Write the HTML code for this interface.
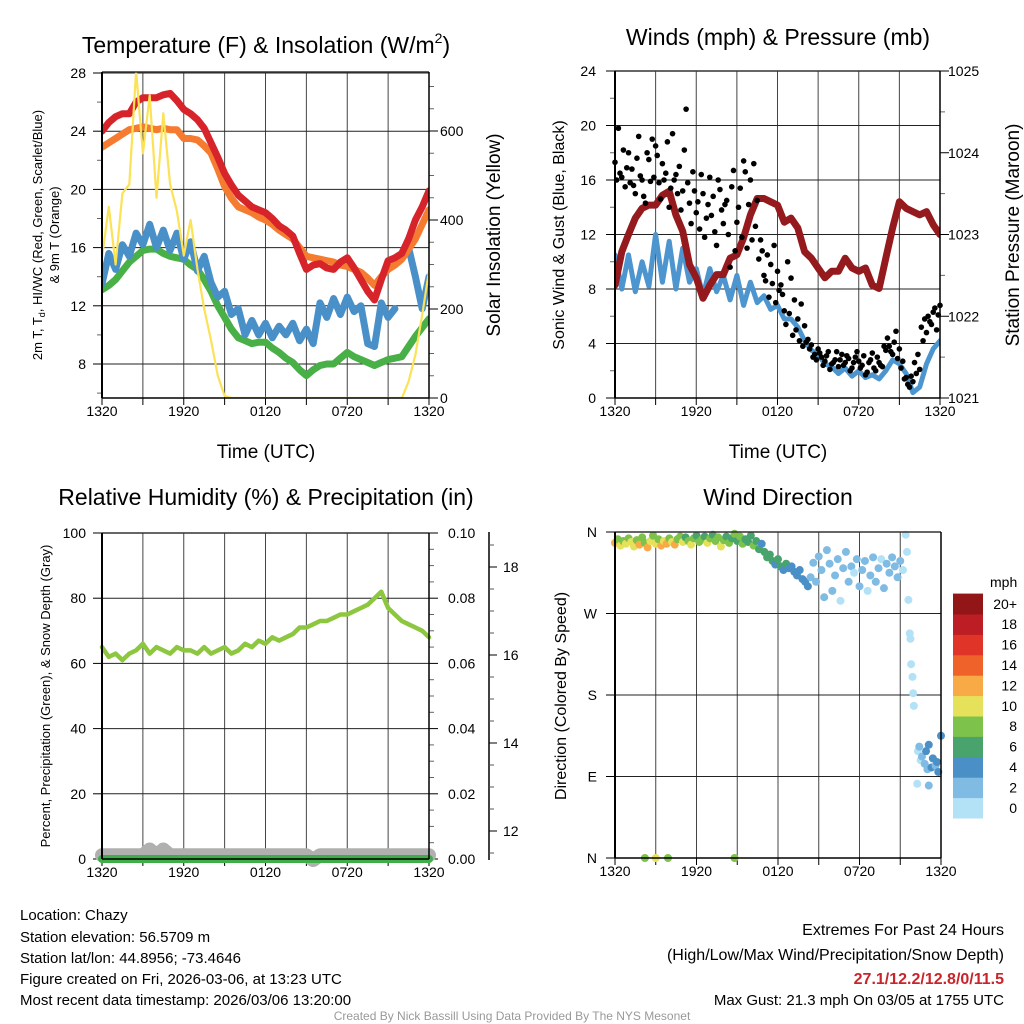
<!DOCTYPE html>
<html><head><meta charset="utf-8">
<style>
html,body{margin:0;padding:0;background:#fff;}
svg{display:block;font-family:"Liberation Sans",Arial,sans-serif;}
</style></head>
<body>
<svg id="s" width="1024" height="1024" viewBox="0 0 1024 1024" xmlns="http://www.w3.org/2000/svg">
<defs>
<clipPath id="c1"><rect x="102" y="72" width="327" height="326"/></clipPath>
<clipPath id="c2"><rect x="615" y="71" width="325" height="327"/></clipPath>
</defs>
<rect width="1024" height="1024" fill="#fff"/>
<text x="266" y="53" font-size="23" text-anchor="middle">Temperature (F) &amp; Insolation (W/m<tspan font-size="14" dy="-10">2</tspan><tspan dy="10">)</tspan></text>
<text x="778" y="45" font-size="23" text-anchor="middle">Winds (mph) &amp; Pressure (mb)</text>
<text x="266" y="505" font-size="23" text-anchor="middle">Relative Humidity (%) &amp; Precipitation (in)</text>
<text x="778" y="505" font-size="23" text-anchor="middle">Wind Direction</text>
<text x="266" y="458" font-size="19" text-anchor="middle">Time (UTC)</text>
<text x="778" y="458" font-size="19" text-anchor="middle">Time (UTC)</text>
<text transform="translate(42,235) rotate(-90)" font-size="13" text-anchor="middle">2m T, T<tspan font-size="9" dy="3">d</tspan><tspan dy="-3">, HI/WC (Red, Green, Scarlet/Blue)</tspan></text>
<text transform="translate(59,235) rotate(-90)" font-size="13" text-anchor="middle">&amp; 9m T (Orange)</text>
<text transform="translate(500,235) rotate(-90)" font-size="19" text-anchor="middle">Solar Insolation (Yellow)</text>
<text transform="translate(564,235) rotate(-90)" font-size="16" text-anchor="middle">Sonic Wind &amp; Gust (Blue, Black)</text>
<text transform="translate(1019,235) rotate(-90)" font-size="19" text-anchor="middle">Station Pressure (Maroon)</text>
<text transform="translate(50,696) rotate(-90)" font-size="13" text-anchor="middle">Percent, Precipitation (Green), &amp; Snow Depth (Gray)</text>
<text transform="translate(566,696) rotate(-90)" font-size="16" text-anchor="middle">Direction (Colored By Speed)</text>
<g font-size="15">
<text x="20" y="920">Location: Chazy</text>
<text x="20" y="942">Station elevation: 56.5709 m</text>
<text x="20" y="963">Station lat/lon: 44.8956; -73.4646</text>
<text x="20" y="984">Figure created on Fri, 2026-03-06, at 13:23 UTC</text>
<text x="20" y="1005">Most recent data timestamp: 2026/03/06 13:20:00</text>
</g>
<g text-anchor="end">
<text x="1004" y="935" font-size="16">Extremes For Past 24 Hours</text>
<text x="1004" y="960" font-size="16">(High/Low/Max Wind/Precipitation/Snow Depth)</text>
<text x="1004" y="984" font-size="16" font-weight="bold" fill="#c8252b">27.1/12.2/12.8/0/11.5</text>
<text x="1004" y="1005" font-size="15">Max Gust: 21.3 mph On 03/05 at 1755 UTC</text>
</g>
<text x="512" y="1020" font-size="12" fill="#999" text-anchor="middle">Created By Nick Bassill Using Data Provided By The NYS Mesonet</text>
</svg>
<script>
const hours = [];
for (let i = 0; i <= 48; i++) hours.push(i * 0.5);
const xTickLabels = ["1320", "1920", "0120", "0720", "1320"];
const temp2m = [24.0,24.6,25.0,25.2,25.2,26.0,26.3,26.3,26.3,26.5,26.6,26.1,25.5,25.2,24.8,24.2,23.2,22.2,21.1,20.3,19.6,19.2,18.8,18.6,18.4,18.0,17.5,17.2,16.8,15.6,14.5,14.8,14.9,14.6,14.5,15.0,15.3,14.6,13.8,13.0,12.4,13.8,15.1,15.3,15.6,16.6,17.9,18.8,19.9];
const temp9m = [22.9,23.2,23.5,23.8,24.1,24.2,24.3,24.2,24.1,24.2,24.1,24.1,23.5,23.5,23.4,23.0,22.5,21.4,20.2,19.4,18.8,18.6,18.4,18.1,17.9,17.6,17.2,16.9,16.6,16.0,15.4,15.3,15.2,15.1,15.0,14.8,14.7,14.5,14.3,13.9,13.4,14.0,14.5,14.8,15.2,15.9,16.6,17.6,18.6];
const dewpt = [13.1,13.4,13.8,14.4,15.0,15.4,15.8,15.9,15.9,15.6,15.4,15.3,15.2,14.8,14.5,13.8,13.0,12.0,11.2,10.4,9.8,9.6,9.4,9.5,9.5,9.1,8.8,8.4,8.1,7.6,7.2,7.6,7.9,8.0,8.0,8.4,8.8,8.5,8.3,8.1,7.9,8.1,8.3,8.4,8.5,9.2,9.9,10.5,11.1];
const hiwc = [13.5,15.6,14.5,16.2,15.4,17.0,16.2,17.6,16.0,17.2,15.8,17.0,15.2,16.4,14.4,15.4,13.6,12.6,13.0,11.4,11.8,10.0,11.0,10.0,10.8,9.8,10.6,10.0,10.8,9.6,10.4,9.4,12.2,11.2,12.5,11.4,12.6,11.6,12.0,9.4,9.2,12.2,11.2,11.8,null,16.0,14.0,11.8,14.0];
const solar = [315,430,300,460,480,735,550,680,450,640,480,420,320,400,290,200,130,50,5,0,0,0,0,0,0,0,0,0,0,0,0,0,0,0,0,0,0,0,0,0,0,0,0,0,0,37,97,187,285];
const sonicWind = [10.5,8.0,10.5,7.8,10.0,8.2,12.0,8.5,11.5,8.0,11.0,8.5,9.5,7.5,9.5,7.8,9.0,7.2,9.0,6.8,8.5,7.0,7.5,6.5,6.8,5.8,5.8,5.2,4.2,3.5,3.2,2.5,2.3,1.8,2.2,1.6,2.0,1.5,1.7,1.4,2.0,2.8,2.5,1.8,0.4,0.8,2.5,3.6,4.2];
const pressure = [1022.38,1022.79,1023.0,1023.2,1023.32,1023.36,1023.36,1023.48,1023.53,1023.24,1023.04,1022.63,1022.47,1022.22,1022.38,1022.51,1022.51,1022.71,1022.75,1022.96,1023.24,1023.44,1023.44,1023.4,1023.36,1023.15,1023.2,1023.08,1022.79,1022.71,1022.59,1022.47,1022.55,1022.55,1022.71,1022.59,1022.55,1022.59,1022.38,1022.34,1022.71,1023.08,1023.4,1023.32,1023.28,1023.24,1023.28,1023.12,1023.0];
const gustTimes = [];
for (let i = 0; i <= 96; i++) gustTimes.push(i * 0.25);
const gusts = [17.3,19.8,16.2,15.5,18.0,16.8,15.0,19.2,16.0,14.3,17.5,19.0,18.5,15.8,17.2,16.5,14.0,19.4,16.4,17.0,15.2,21.2,14.3,16.6,13.6,12.4,15.0,13.2,16.2,14.8,11.2,15.3,12.8,14.5,9.6,16.7,12.9,15.4,17.4,11.0,16.0,17.2,14.5,11.6,9.0,10.5,9.8,11.2,9.3,8.3,6.4,10.0,8.8,7.2,5.8,6.9,5.3,4.3,3.9,3.2,3.6,3.0,2.7,3.4,2.5,2.8,2.3,3.2,2.6,2.9,2.2,3.0,2.7,2.4,1.7,2.6,3.3,2.0,2.6,2.3,3.5,3.8,3.2,4.9,3.6,2.7,1.5,0.8,1.2,1.8,2.1,4.2,4.8,5.6,6.3,5.0,6.8];
const gusts2 = [16.0,16.5,18.2,16.9,15.8,15.6,17.6,16.3,14.8,18.0,15.9,16.2,17.8,14.6,16.0,18.8,15.4,16.0,15.0,13.8,18.2,15.8,12.8,15.2,14.4,16.4,11.8,14.2,13.4,12.2,16.0,13.8,14.2,12.0,15.5,10.8,14.0,11.8,16.6,14.2,11.6,12.6,10.2,10.8,8.6,7.4,8.4,7.0,7.9,7.6,5.4,6.2,4.6,5.0,4.2,3.8,4.1,3.6,3.0,2.8,3.3,2.4,3.1,2.1,2.6,3.4,2.8,2.4,3.1,2.0,2.6,3.4,2.2,3.1,1.9,2.8,2.2,3.0,2.4,3.8,4.4,3.4,4.1,2.9,2.2,1.4,1.0,1.6,2.6,3.2,5.2,5.8,6.0,5.4,6.6,6.1,7.0];
const rh = [65,62,63,61,63,64,66,63,65,64,63,65,64,64,63,65,63,64,65,63,64,66,65,67,66,68,67,68,69,71,71,72,73,73,74,75,75,76,77,78,80,82,77,75,73,72,71,70,68];
const precip = hours.map(() => 0);
const snowDepth = [11.45,11.45,11.45,11.45,11.45,11.45,11.45,11.58,11.45,11.58,11.45,11.45,11.45,11.45,11.45,11.45,11.45,11.45,11.45,11.45,11.45,11.45,11.45,11.45,11.45,11.45,11.45,11.45,11.45,11.45,11.45,11.34,11.45,11.45,11.45,11.45,11.45,11.45,11.45,11.45,11.45,11.45,11.45,11.45,11.45,11.45,11.45,11.45,11.45];
const dirTimes = [0,0.2,0.4,0.6,0.8,1.0,1.2,1.4,1.6,1.8,2.0,2.2,2.4,2.6,2.8,3.0,3.2,3.4,3.6,3.8,4.0,4.2,4.4,4.6,4.8,5.0,5.2,5.4,5.6,5.8,6.0,6.2,6.4,6.6,6.8,7.0,7.2,7.4,7.6,7.8,8.0,8.2,8.4,8.6,8.8,9.0,9.2,9.4,9.6,9.8,10.0,10.2,10.4,10.6,10.8,11.0,11.2,11.4,11.6,11.8,12.0,12.2,12.4,12.6,12.8,13.0,13.2,13.4,13.6,13.8,14.0,14.2,14.4,14.6,14.8,15.0,15.2,15.4,15.6,15.8,16.0,16.2,16.4,16.6,16.8,17.0,17.2,17.4,17.6,17.8,18.0,18.2,18.4,18.6,18.8,19.0,19.2,19.4,19.6,19.8,20.0,20.2,20.4,20.6,20.8,21.0,21.2,21.4,21.5,21.6,21.7,21.75,21.8,21.9,21.95,22.0,22.25,22.3,22.4,22.5,22.6,22.8,22.9,23.0,23.1,23.1,23.3,23.4,23.6,23.7,23.8,24.0,2.2,3.0,3.9,8.8];
const dirDeg = [348,352,345,350,347,353,349,344,351,346,354,348,343,350,356,347,352,345,350,347,353,349,346,352,355,349,354,350,346,353,356,349,352,355,348,353,357,350,354,344,351,355,348,353,358,350,355,347,352,349,356,345,350,341,347,338,332,335,328,324,330,322,318,325,320,322,316,312,318,308,305,300,310,326,305,333,318,288,340,325,295,312,330,284,320,338,305,322,315,330,300,318,328,295,312,332,305,320,330,298,325,315,332,322,310,328,318,357,338,285,248,242,214,200,182,168,82,118,123,108,112,104,118,98,80,125,100,110,102,106,95,135,0,0,0,0];
const dirSpeed = [13,9,10,8,10,9,11,10,8,12,9,8,13,10,8,11,9,12,10,13,8,10,12,9,8,10,7,9,10,8,7,9,8,6,10,8,7,9,8,10,9,6,8,7,8,7,9,8,7,6,6,8,6,7,5,6,6,7,6,5,7,6,5,6,5,4,5,4,4,5,4,4,3,3,2,2,3,2,2,3,2,2,3,1,2,3,2,3,1,2,2,3,2,1,2,3,2,2,1,2,2,3,2,2,3,2,1,0,0,0,0,0,0,0,0,0,1,0,2,1,2,3,4,2,3,4,4,5,3,4,5,4,8,10,8,8];
const speedColors = ["#b3e2f7","#80bbe4","#4a8fc6","#48a46c","#7dc24b","#e6e15a","#f7aa45","#ef632a","#df3427","#bd1d25","#921518"];
const speedLabels = ["0","2","4","6","8","10","12","14","16","18","20+"];
</script>
<script>
const svg = document.getElementById('s');
const NS = 'http://www.w3.org/2000/svg';
function mk(tag, attrs, parent) {
  const e = document.createElementNS(NS, tag);
  for (const k in attrs) e.setAttribute(k, attrs[k]);
  (parent || svg).appendChild(e);
  return e;
}
function lin(d0, d1, r0, r1) { return v => r0 + (v - d0) * (r1 - r0) / (d1 - d0); }
function pathFrom(xs, ys, fx, fy) {
  let d = '', pen = false;
  for (let i = 0; i < xs.length; i++) {
    if (ys[i] === null || ys[i] === undefined) { pen = false; continue; }
    d += (pen ? 'L' : 'M') + fx(xs[i]).toFixed(1) + ' ' + fy(ys[i]).toFixed(1);
    pen = true;
  }
  return d;
}
function frame(P, name) {
  const g = mk('g', {});
  
  
  for (let h = 0; h <= 24; h += 3) {
    const x = P.fx(h);
    mk('line', {x1: x, x2: x, y1: P.y0, y2: P.y1, stroke: '#444', 'stroke-width': 1}, g);
    mk('line', {x1: x, x2: x, y1: P.y1, y2: P.y1 + 7, stroke: '#000', 'stroke-width': 1}, g);
  }
  for (let i = 0; i < xTickLabels.length; i++) {
    const t = mk('text', {x: P.fx(i * 6), y: P.y1 + 18, 'font-size': 14, 'text-anchor': 'middle'}, g);
    t.textContent = xTickLabels[i];
    
    
  }
  return g;
}
function yAxis(P, ticks, minors, fy, side, fmt, name, labelX, drawGrid) {
  const g = mk('g', {});
  
  
  const sx = side === 'L' ? P.x0 : P.x1;
  const dir = side === 'L' ? -1 : 1;
  ticks.forEach(v => {
    const y = fy(v);
    if (drawGrid) mk('line', {x1: P.x0, x2: P.x1, y1: y, y2: y, stroke: '#222', 'stroke-width': 1}, g);
    mk('line', {x1: sx, x2: sx + dir * 9, y1: y, y2: y, stroke: '#000', 'stroke-width': 1}, g);
    const t = mk('text', {x: labelX, y: y + 5, 'font-size': 14, 'text-anchor': side === 'L' ? 'end' : 'start'}, g);
    t.textContent = fmt(v);
    
    
  });
  minors.forEach(v => {
    const y = fy(v);
    mk('line', {x1: sx, x2: sx + dir * 5, y1: y, y2: y, stroke: '#666', 'stroke-width': 1}, g);
  });
}
function spines(P, name) {
  const g = mk('g', {fill: 'none'});
  
  
  mk('line', {x1: P.x0, x2: P.x1, y1: P.y0, y2: P.y0, stroke: '#333', 'stroke-width': 1.5}, g);
  mk('line', {x1: P.x0, x2: P.x1, y1: P.y1, y2: P.y1, stroke: '#000', 'stroke-width': 1.5}, g);
  mk('line', {x1: P.x0, x2: P.x0, y1: P.y0, y2: P.y1, stroke: '#000', 'stroke-width': 2}, g);
  mk('line', {x1: P.x1, x2: P.x1, y1: P.y0, y2: P.y1, stroke: '#000', 'stroke-width': 1.5}, g);
}
function line(d, color, w, name, clip) {
  const attrs = {d: d, fill: 'none', stroke: color, 'stroke-width': w, 'stroke-linejoin': 'round', 'stroke-linecap': 'round'};
  if (clip) attrs['clip-path'] = 'url(#' + clip + ')';
  const p = mk('path', attrs);
  
  
  return p;
}
function range(a, b, s) { const r = []; for (let v = a; v <= b + 1e-9; v += s) r.push(+v.toFixed(4)); return r; }

// Panel 1
const P1 = {x0: 102, x1: 429, y0: 72, y1: 398};
P1.fx = lin(0, 24, P1.x0, P1.x1);
const t1 = lin(28, 8, 73, 364);
const s1 = lin(0, 600, 398, 131);
frame(P1, 'temp');
yAxis(P1, [8,12,16,20,24,28], [6,10,14,18,22,26], t1, 'L', v => v, 'temp-y-axis', 86, true);
yAxis(P1, [0,200,400,600], range(50,700,50).filter(v => v % 200), s1, 'R', v => v, 'solar-y-axis', 440, false);
line(pathFrom(hours, dewpt, P1.fx, t1), '#48b046', 7, 'dewpoint-line', 'c1');
line(pathFrom(hours, hiwc, P1.fx, t1), '#4a90c8', 7, 'heat-index-wind-chill-line', 'c1');
line(pathFrom(hours, temp9m, P1.fx, t1), '#f47b30', 7, 'temp-9m-line', 'c1');
line(pathFrom(hours, temp2m, P1.fx, t1), '#d7242a', 7, 'temp-2m-line', 'c1');
line(pathFrom(hours, solar, P1.fx, s1), '#fbe257', 2.2, 'solar-insolation-line', 'c1');
spines(P1, 'temp');

// Panel 2
const P2 = {x0: 615, x1: 940, y0: 71, y1: 398};
P2.fx = lin(0, 24, P2.x0, P2.x1);
const w2 = lin(0, 24, 398, 71);
const p2 = lin(1021, 1025, 398, 71);
frame(P2, 'wind');
yAxis(P2, [0,4,8,12,16,20,24], [2,6,10,14,18,22], w2, 'L', v => v, 'wind-y-axis', 596, true);
yAxis(P2, [1021,1022,1023,1024,1025], [1021.5,1022.5,1023.5,1024.5], p2, 'R', v => v, 'pressure-y-axis', 948, false);
line(pathFrom(hours, sonicWind, P2.fx, w2), '#4c95cf', 5, 'sonic-wind-line', 'c2');
line(pathFrom(hours, pressure, P2.fx, p2), '#951a1d', 7, 'pressure-line', 'c2');
const gg = mk('g', {fill: '#000'});


gustTimes.forEach((t, i) => {
  mk('circle', {cx: P2.fx(t), cy: w2(gusts[i]), r: 2.8}, gg);
  if (t + 0.12 <= 24) mk('circle', {cx: P2.fx(t + 0.12), cy: w2(gusts2[i]), r: 2.8}, gg);
});
spines(P2, 'wind');

// Panel 3
const P3 = {x0: 102, x1: 429, y0: 533, y1: 859};
P3.fx = lin(0, 24, P3.x0, P3.x1);
const r3 = lin(0, 100, 859, 533);
const q3 = lin(0, 0.1, 859, 533);
const sd3 = lin(12, 18, 831, 567);
frame(P3, 'rh');
yAxis(P3, [0,20,40,60,80,100], [], r3, 'L', v => v, 'rh-y-axis', 86, true);
yAxis(P3, [0,0.02,0.04,0.06,0.08,0.1], range(0.005,0.1,0.005).filter(v => Math.round(v*1000) % 20), q3, 'R', v => v.toFixed(2), 'precip-y-axis', 448, false);
(function () {
  const g = mk('g', {});
  
  
  mk('line', {x1: 489, x2: 489, y1: 532, y2: 860, stroke: '#000', 'stroke-width': 1.5}, g);
  [12,14,16,18].forEach(v => {
    mk('line', {x1: 489, x2: 497, y1: sd3(v), y2: sd3(v), stroke: '#000'}, g);
    const t = mk('text', {x: 503, y: sd3(v) + 5, 'font-size': 14}, g);
    t.textContent = v;
    
    
  });
  range(11.5, 18.5, 0.5).filter(v => v % 2).forEach(v => mk('line', {x1: 489, x2: 494, y1: sd3(v), y2: sd3(v), stroke: '#555'}, g));
})();
line(pathFrom(hours, snowDepth, P3.fx, sd3), '#b0b0b0', 14, 'snow-depth-line');
line(pathFrom(hours, precip, P3.fx, q3), '#3fae49', 8, 'precipitation-line');
line(pathFrom(hours, rh, P3.fx, r3), '#8dc63f', 4.5, 'relative-humidity-line');
spines(P3, 'rh');

// Panel 4
const P4 = {x0: 615, x1: 941, y0: 532, y1: 858};
P4.fx = lin(0, 24, P4.x0, P4.x1);
const d4 = lin(0, 360, 858, 532);
frame(P4, 'direction');
yAxis(P4, [0,90,180,270,360], [], d4, 'L', v => ({0:'N',90:'E',180:'S',270:'W',360:'N'})[v], 'direction-y-axis', 597, true);
const dg = mk('g', {});


dirTimes.forEach((t, i) => {
  const c = speedColors[Math.min(10, Math.floor(dirSpeed[i] / 2))];
  mk('circle', {cx: P4.fx(t), cy: d4(dirDeg[i]), r: 4, fill: c}, dg);
});
spines(P4, 'direction');
(function () {
  const g = mk('g', {});
  
  
  const t = mk('text', {x: 990, y: 587, 'font-size': 14}, g);
  t.textContent = 'mph';
  
  
  const h = 20.4;
  for (let i = 0; i < speedColors.length; i++) {
    const y = 818 - (i + 1) * h;
    const r = mk('rect', {x: 953, y: y, width: 30, height: h + 0.5, fill: speedColors[i]}, g);
    
    
    const l = mk('text', {x: 1017, y: y + h / 2 + 5, 'font-size': 14, 'text-anchor': 'end'}, g);
    l.textContent = speedLabels[i];
    
    
  }
})();
</script>
</body></html>
